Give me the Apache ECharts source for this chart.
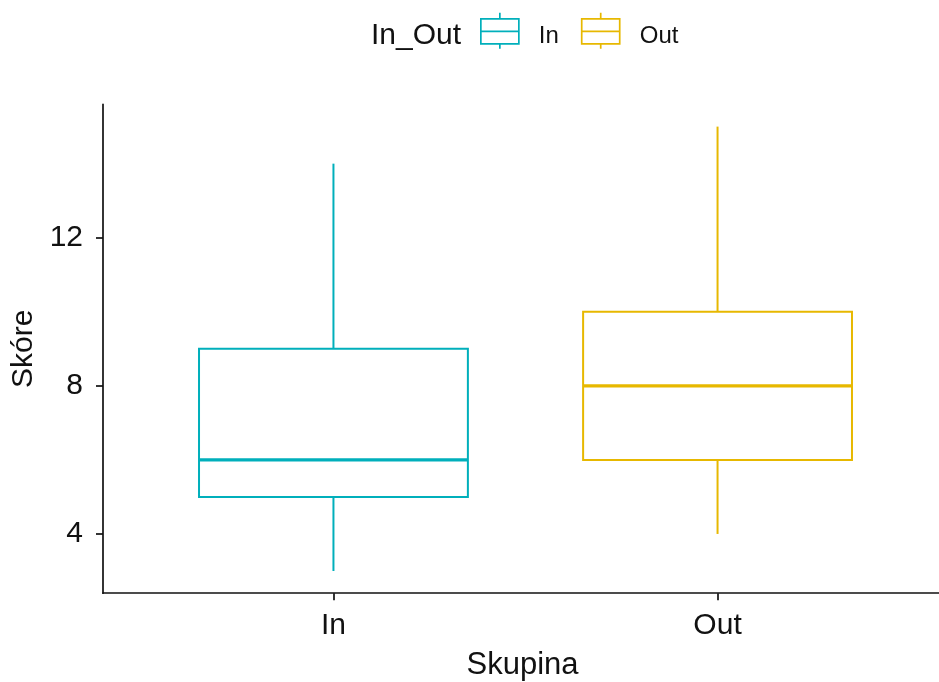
<!DOCTYPE html>
<html>
<head>
<meta charset="utf-8">
<script src="https://cdn.jsdelivr.net/npm/echarts@6/dist/echarts.min.js"></script>
<style>
  html, body { margin: 0; padding: 0; background: #fff; }
  #chart { width: 939px; height: 682px; }
</style>
</head>
<body>
<div id="chart"></div>
<script>
// Five-number summaries of the score per group
const groups = ['In', 'Out'];
const lowerWhisker = [3, 4];
const lowerQuartile = [5, 6];
const medianScore = [6, 8];
const upperQuartile = [9, 10];
const upperWhisker = [14, 15];
const groupColors = ['#00AFBB', '#E7B800'];
const yTicks = [4, 8, 12];

const FONT = "'Liberation Sans', Arial, sans-serif";
const INK = '#111';
const BOX_HALF_WIDTH = 0.35;

// Box glyph used for the legend keys
const boxIcon = 'path://M0,6 L38,6 L38,31 L0,31 Z M0,18.5 L38,18.5 M19,0 L19,6 M19,31 L19,36';

function renderBox(params, api) {
  const x = api.value(0);
  const color = api.visual('color');
  const pLow = api.coord([x, api.value(1)]);
  const pQ1 = api.coord([x, api.value(2)]);
  const pMed = api.coord([x, api.value(3)]);
  const pQ3 = api.coord([x, api.value(4)]);
  const pHigh = api.coord([x, api.value(5)]);
  const half = api.size([BOX_HALF_WIDTH, 0])[0];
  const thin = { stroke: color, lineWidth: 2, fill: null };
  return {
    type: 'group',
    children: [
      { type: 'line', shape: { x1: pHigh[0], y1: pHigh[1], x2: pQ3[0], y2: pQ3[1] }, style: thin },
      { type: 'line', shape: { x1: pQ1[0], y1: pQ1[1], x2: pLow[0], y2: pLow[1] }, style: thin },
      { type: 'rect', shape: { x: pQ3[0] - half, y: pQ3[1], width: half * 2, height: pQ1[1] - pQ3[1] },
        style: { stroke: color, lineWidth: 2, fill: '#fff' } },
      { type: 'line', shape: { x1: pMed[0] - half, y1: pMed[1], x2: pMed[0] + half, y2: pMed[1] },
        style: { stroke: color, lineWidth: 3.4 } }
    ]
  };
}

const series = groups.map((g, i) => ({
  name: g,
  type: 'custom',
  renderItem: renderBox,
  itemStyle: { color: groupColors[i] },
  encode: { x: 0, y: [1, 2, 3, 4, 5] },
  data: [[i + 1, lowerWhisker[i], lowerQuartile[i], medianScore[i], upperQuartile[i], upperWhisker[i]]],
  clip: false
}));

const chart = echarts.init(document.getElementById('chart'), null, { renderer: 'canvas' });
chart.setOption({
  backgroundColor: '#fff',
  animation: false,
  textStyle: { fontFamily: FONT },
  title: {
    text: 'In_Out',
    left: 371,
    top: 21,
    padding: 0,
    textStyle: { fontFamily: FONT, fontSize: 30, fontWeight: 'normal', color: INK }
  },
  legend: {
    left: 480,
    top: 12,
    padding: 0,
    itemWidth: 38,
    itemHeight: 36,
    itemGap: 22,
    icon: boxIcon,
    formatter: '{t|{name}}',
    textStyle: {
      fontFamily: FONT, fontSize: 24, color: INK,
      rich: { t: { fontFamily: FONT, fontSize: 24, color: INK, padding: [11, 0, 0, 15] } }
    },
    data: groups.map((g, i) => ({
      name: g,
      itemStyle: { color: 'transparent', borderColor: groupColors[i], borderWidth: 1.7 }
    }))
  },
  grid: { left: 103, top: 104.4, width: 845, height: 488.8, outerBoundsMode: 'none', containLabel: false },
  xAxis: {
    type: 'value',
    min: 0.4,
    max: 2.6,
    name: 'Skupina',
    nameLocation: 'middle',
    nameGap: 57,
    nameTextStyle: { fontFamily: FONT, fontSize: 31, color: INK, padding: [0, 6, 0, 0] },
    axisLine: { show: true, lineStyle: { color: INK, width: 1.7 } },
    axisTick: { show: true, customValues: [1, 2], length: 7, lineStyle: { color: INK, width: 1.7 } },
    axisLabel: {
      customValues: [1, 2],
      formatter: v => groups[Math.round(v) - 1] || '',
      fontFamily: FONT, fontSize: 30, color: INK, margin: 18
    },
    splitLine: { show: false }
  },
  yAxis: {
    type: 'value',
    min: 2.4,
    max: 15.6,
    name: 'Skóre',
    nameLocation: 'middle',
    nameGap: 62,
    nameTextStyle: { fontFamily: FONT, fontSize: 30, color: INK },
    axisLine: { show: true, lineStyle: { color: INK, width: 1.7 } },
    axisTick: { show: true, customValues: yTicks, length: 7, lineStyle: { color: INK, width: 1.7 } },
    axisLabel: { customValues: yTicks, fontFamily: FONT, fontSize: 30, color: INK, margin: 20 },
    splitLine: { show: false }
  },
  series: series
});
</script>
</body>
</html>
